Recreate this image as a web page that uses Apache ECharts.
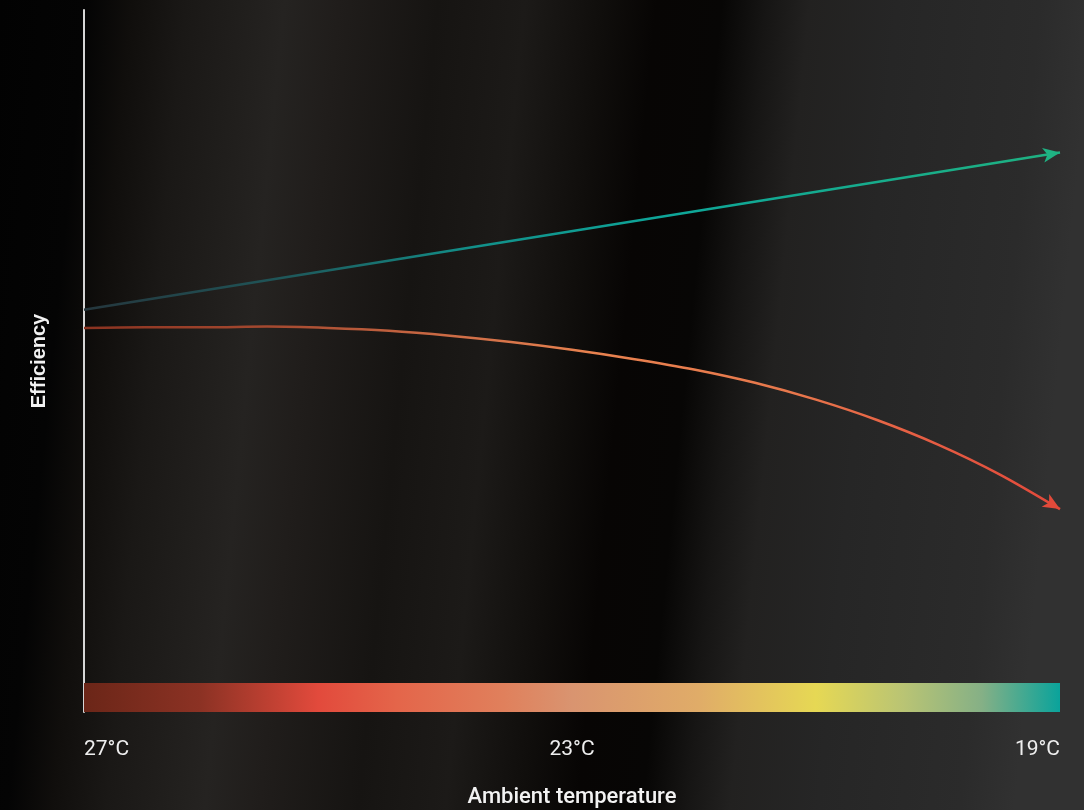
<!DOCTYPE html>
<html><head><meta charset="utf-8">
<script src="https://cdn.jsdelivr.net/npm/echarts@6/dist/echarts.min.js"></script>
<style>html,body{margin:0;padding:0;background:#111}#c{width:1084px;height:810px}</style>
</head><body><div id="c"></div>
<script>
// ---- data ----
const redTemps = [27, 26.5, 26, 25.5, 25, 24.5, 24, 23.5, 23, 22.5, 22, 21.5, 21, 20.5, 20, 19.5, 19];
const redEfficiency = [54.7, 54.8, 54.8, 54.9, 54.7, 54.3, 53.6, 52.7, 51.6, 50.3, 48.8, 46.9, 44.5, 41.6, 38.1, 33.9, 28.9];
const greenTemps = [27, 19];
const greenEfficiency = [57.3, 79.7];
const tickTemps = [19, 23, 27];
const tickLabels = ['19°C', '23°C', '27°C'];
const colorBarTemps = [27, 19];
const colorBarEfficiency = [0, 4.13];
const xName = 'Ambient temperature';
const yName = 'Efficiency';

const LG = echarts.graphic.LinearGradient;
const chart = echarts.init(document.getElementById('c'), null, {renderer: 'canvas'});

function seriesData(xs, ys, arrow) {
  return xs.map((x, i) => {
    const item = {value: [x, ys[i]]};
    if (i === xs.length - 1) Object.assign(item, arrow);
    return item;
  });
}

const option = {
  animation: false,
  backgroundColor: new LG(0, 0, 1, 0.132, [
    {offset: 0, color: '#020202'},
    {offset: 0.08, color: '#040404'},
    {offset: 0.12, color: '#100e0c'},
    {offset: 0.17, color: '#1a1816'},
    {offset: 0.26, color: '#252321'},
    {offset: 0.31, color: '#201d1b'},
    {offset: 0.40, color: '#161412'},
    {offset: 0.48, color: '#1c1a18'},
    {offset: 0.55, color: '#100e0c'},
    {offset: 0.60, color: '#070504'},
    {offset: 0.66, color: '#070605'},
    {offset: 0.70, color: '#161514'},
    {offset: 0.74, color: '#222120'},
    {offset: 0.82, color: '#262626'},
    {offset: 0.95, color: '#2b2b2b'},
    {offset: 1, color: '#313131'}
  ]),
  grid: {left: 84, right: 24, top: 10, bottom: 98, containLabel: false, outerBoundsMode: 'none'},
  xAxis: {
    type: 'value', min: 19, max: 27, inverse: true,
    name: xName, nameLocation: 'middle', nameGap: 74,
    nameTextStyle: {color: '#f2f2f2', fontFamily: 'Roboto', fontWeight: 500, fontSize: 22},
    axisLine: {show: false}, axisTick: {show: false}, splitLine: {show: false},
    axisLabel: {
      customValues: tickTemps,
      formatter: v => tickLabels[tickTemps.indexOf(v)],
      color: '#eeeeee', fontFamily: 'Roboto', fontSize: 21, margin: 27,
      alignMinLabel: 'right', alignMaxLabel: 'left'
    }
  },
  yAxis: {
    type: 'value', min: 0, max: 100,
    name: yName, nameLocation: 'middle', nameGap: 35,
    nameTextStyle: {color: '#f2f2f2', fontFamily: 'Liberation Sans', fontWeight: 'bold', fontSize: 20},
    axisLine: {show: true, lineStyle: {color: '#d6d6d6', width: 2}},
    axisTick: {show: false}, axisLabel: {show: false}, splitLine: {show: false}
  },
  series: [
    {
      type: 'line', silent: true, symbol: 'none',
      data: seriesData(greenTemps, greenEfficiency, {
        symbol: 'arrow', symbolSize: [11, 17], symbolRotate: -81,
        itemStyle: {color: '#1fb383'}
      }),
      lineStyle: {width: 2.5, color: new LG(0, 0, 1, 0, [
        {offset: 0, color: '#25363d'}, {offset: 0.2, color: '#1f5558'},
        {offset: 0.4, color: '#12908a'}, {offset: 0.6, color: '#0ea699'},
        {offset: 1, color: '#1fb281'}
      ])}
    },
    {
      type: 'line', silent: true, symbol: 'none', smooth: 0.3,
      data: seriesData(redTemps, redEfficiency, {
        symbol: 'arrow', symbolSize: [11, 17], symbolRotate: -121,
        itemStyle: {color: '#e24a3a'}
      }),
      lineStyle: {width: 2.5, color: new LG(0, 0, 1, 0, [
        {offset: 0, color: '#8a3220'}, {offset: 0.2, color: '#a64a30'},
        {offset: 0.4, color: '#d27048'}, {offset: 0.52, color: '#e8824f'},
        {offset: 0.72, color: '#e8784c'}, {offset: 0.85, color: '#e65f44'},
        {offset: 1, color: '#e2483a'}
      ])},
      markArea: {
        silent: true,
        label: {show: false},
        itemStyle: {color: new LG(0, 0, 1, 0, [
          {offset: 0, color: '#6b2618'}, {offset: 0.12, color: '#8c3224'},
          {offset: 0.24, color: '#e24a3c'}, {offset: 0.32, color: '#e4654a'},
          {offset: 0.43, color: '#e0805c'}, {offset: 0.5, color: '#d99470'},
          {offset: 0.63, color: '#e0ac68'}, {offset: 0.75, color: '#e6d854'},
          {offset: 0.84, color: '#b9c474'}, {offset: 0.92, color: '#85b086'},
          {offset: 1, color: '#0aa39b'}
        ])},
        data: [[
          {xAxis: colorBarTemps[0], yAxis: colorBarEfficiency[0]},
          {xAxis: colorBarTemps[1], yAxis: colorBarEfficiency[1]}
        ]]
      }
    }
  ]
};
chart.setOption(option);
</script></body></html>
